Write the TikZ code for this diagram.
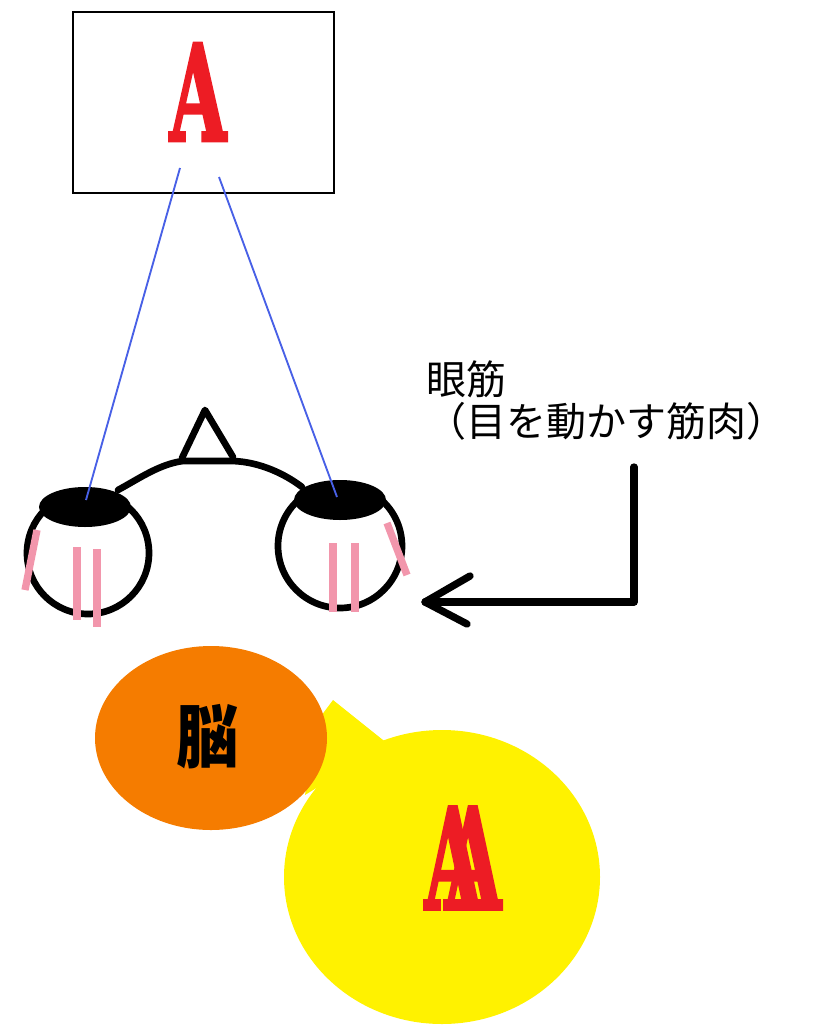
\documentclass[tikz,border=0pt]{standalone}
\usepackage{fontspec}
\usepackage{graphicx}
\newfontfamily\jpfont{Noto Sans CJK JP}
\newfontfamily\slabfont{DejaVu Serif}[BoldFont={DejaVu Serif Bold},BoldFeatures={FakeBold=2.5}]
\definecolor{letterred}{RGB}{237,28,36}
\definecolor{raycolor}{RGB}{72,96,230}
\definecolor{musclepink}{RGB}{242,150,172}
\definecolor{brainorange}{RGB}{245,124,0}
\definecolor{bubbleyellow}{RGB}{255,242,0}
\tikzset{every picture/.style={line width=0.75pt}}

\begin{document}
\begin{tikzpicture}[x=0.75pt,y=0.75pt,yscale=-1,xscale=1,
  pen/.style={line width=5pt,line cap=round,line join=round},
  muscle/.style={musclepink,line width=5.5pt},
  ray/.style={raycolor,line width=1.4pt},
  bigletter/.style={letterred,font=\slabfont\bfseries\fontsize{100}{100}\selectfont,inner sep=0pt}]
\useasboundingbox (0,0) rectangle (830,1027);

%Shape: Rectangle [screen]
\draw [line width=2.2pt] (73,12) rectangle (334,193) ;
% Text Node
\node [bigletter] (letterA) at (198,92) {\scalebox{0.55}[1]{A}};

%Coordinates for the rays
\coordinate (rayL) at (180,168) ;
\coordinate (rayR) at (219,177) ;
\coordinate (pupilL) at (86,500) ;
\coordinate (pupilR) at (337,497) ;

%Shape: Eyes
\draw [pen] (88,553) circle (61) ;
\draw [pen] (340,546) circle (62) ;
\fill (85,507) ellipse (46 and 20) ;
\fill (340,500) ellipse (46 and 20) ;
%Nose and bridge
\draw [pen] (118,490) .. controls (140,478) and (160,464) .. (183,461) -- (233,461) .. controls (260,462) and (285,474) .. (302,487) ;
\draw [pen] (182,458) -- (205,410) -- (233,457) ;

%Straight Lines [rays]
\draw [ray] (rayL) -- (pupilL) ;
\draw [ray] (rayR) -- (pupilR) ;

%Muscles
\draw [muscle] (37,530) -- (25,590) ;
\draw [muscle] (77,547) -- (77,620) ;
\draw [muscle] (97,549) -- (97,627) ;
\draw [muscle] (333,543) -- (333,612) ;
\draw [muscle] (355,543) -- (355,612) ;
\draw [muscle] (387,523) -- (407,575) ;

% Text Node
\node [anchor=north west,inner sep=0pt,align=left,font=\jpfont\fontsize{30}{32}\selectfont] (musclelabel) at (426,360) {眼筋\\（目を動かす筋肉）};

%Bent arrow
\coordinate (armtop) at (634,467) ;
\coordinate (armtip) at (425,602) ;
\draw [pen,line width=5.5pt] (armtop) |- (armtip) ;
\draw [pen,line width=5.5pt] (armtip) ++(45,-26) -- (armtip) -- ++(42,22) ;

%Shape: Speech bubble
\fill [bubbleyellow] (333,700) -- (388,744) -- (305,795) -- (318,720) -- cycle ;
\fill [bubbleyellow] (442,877) ellipse (158 and 147) ;
%Shape: Ellipse [brain]
\fill [brainorange] (211,738) ellipse (116 and 92) ;
% Text Node
\node [font=\jpfont\bfseries\fontsize{52}{52}\selectfont,inner sep=0pt] (brain) at (208,737) {\scalebox{0.9}[1]{脳}};
% Text Node
\node [bigletter] (imageA) at (453,858) {\scalebox{0.55}[1.05]{A}};
\node [bigletter] (imageA2) at (473,858) {\scalebox{0.55}[1.05]{A}};

\end{tikzpicture}
\end{document}
